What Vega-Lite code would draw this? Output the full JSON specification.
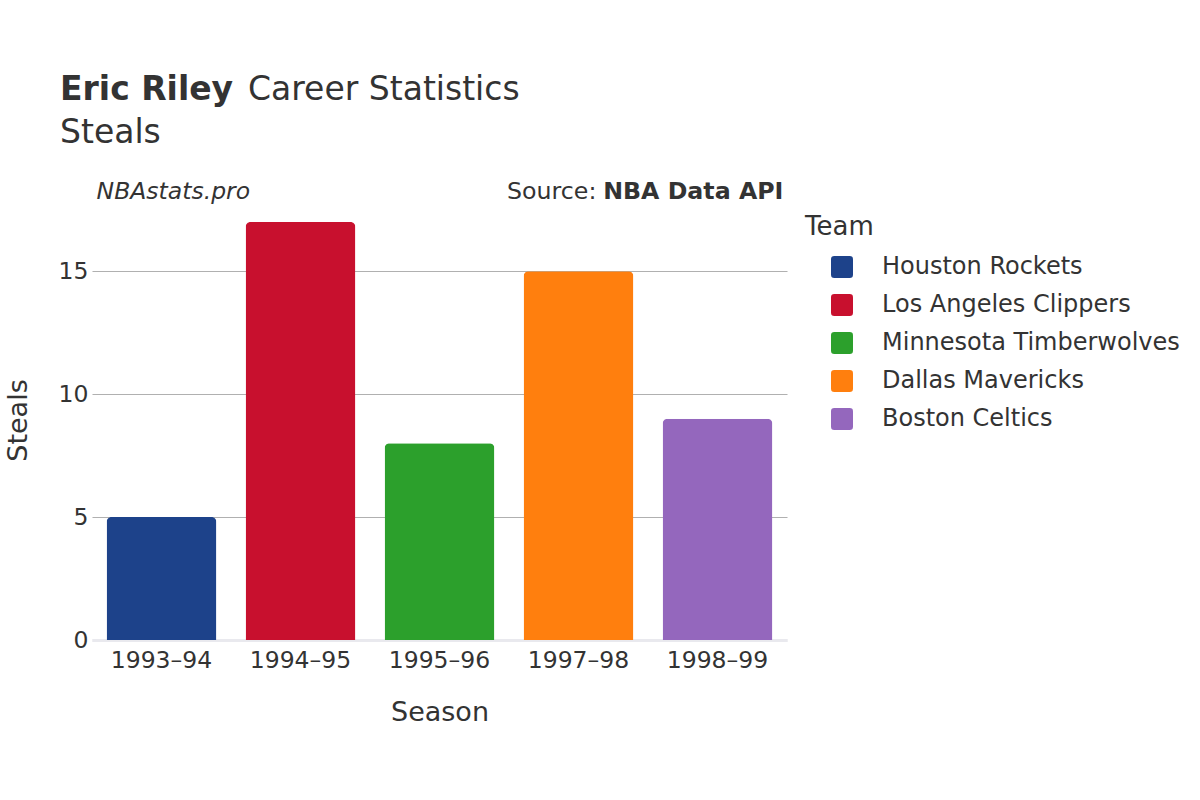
{
  "$schema": "https://vega.github.io/schema/vega-lite/v6.json",
  "padding": {"left": 4, "top": 74, "right": 5, "bottom": 5},
  "background": "white",
  "config": {
    "font": "DejaVu Sans",
    "view": {"stroke": null},
    "title": {"color": "#333333", "subtitleColor": "#333333"},
    "axis": {"labelColor": "#333333", "titleColor": "#333333", "titleFontWeight": "normal"},
    "legend": {"labelColor": "#333333", "titleColor": "#333333"}
  },
  "title": {
    "text": "Eric Riley",
    "subtitle": "Steals",
    "anchor": "start",
    "frame": "group",
    "fontSize": 33,
    "fontWeight": "bold",
    "subtitleFontSize": 33,
    "subtitleFontWeight": "normal",
    "subtitlePadding": 10,
    "dx": -32,
    "dy": 86,
    "offset": 10
  },
  "datasets": {
    "stats": [
      {"Season": "1993–94", "Team": "Houston Rockets", "Steals": 5},
      {"Season": "1994–95", "Team": "Los Angeles Clippers", "Steals": 17},
      {"Season": "1995–96", "Team": "Minnesota Timberwolves", "Steals": 8},
      {"Season": "1997–98", "Team": "Dallas Mavericks", "Steals": 15},
      {"Season": "1998–99", "Team": "Boston Celtics", "Steals": 9}
    ]
  },
  "vconcat": [
    {
      "title": {
        "text": "Career Statistics",
        "anchor": "start",
        "frame": "group",
        "fontSize": 33,
        "fontWeight": "normal",
        "dx": 156,
        "dy": -69
      },
      "width": 695,
      "height": 440,
      "layer": [
        {
          "data": {"name": "stats"},
          "mark": {"type": "bar", "cornerRadiusTopLeft": 5, "cornerRadiusTopRight": 5},
          "encoding": {
            "x": {
              "field": "Season",
              "type": "nominal",
              "sort": null,
              "scale": {"paddingInner": 0.21, "paddingOuter": 0.105},
              "axis": {
                "labelAngle": 0,
                "labelFontSize": 23.5,
                "labelPadding": 8,
                "ticks": false,
                "domainColor": "#e9e9ee",
                "domainWidth": 3,
                "title": "Season",
                "titleFontSize": 27,
                "titlePadding": 28
              }
            },
            "y": {
              "field": "Steals",
              "type": "quantitative",
              "scale": {"domain": [0, 17.9], "nice": false, "zero": true},
              "axis": {
                "values": [0, 5, 10, 15],
                "labelFontSize": 23.5,
                "labelPadding": 4,
                "ticks": false,
                "domain": false,
                "gridColor": {"condition": {"test": "datum.value === 0", "value": "#e9e9ee"}, "value": "#b0b0b0"},
                "gridWidth": {"condition": {"test": "datum.value === 0", "value": 3}, "value": 1.2},
                "title": "Steals",
                "titleFontSize": 27,
                "titlePadding": 26
              }
            },
            "color": {
              "field": "Team",
              "type": "nominal",
              "sort": null,
              "scale": {
                "domain": ["Houston Rockets", "Los Angeles Clippers", "Minnesota Timberwolves", "Dallas Mavericks", "Boston Celtics"],
                "range": ["#1d428a", "#c8102e", "#2ca02c", "#ff7f0e", "#9467bd"]
              },
              "legend": {
                "title": "Team",
                "titleFontSize": 26,
                "titleFontWeight": "normal",
                "titlePadding": 15,
                "labelFontSize": 24,
                "labelLimit": 400,
                "labelOffset": 28,
                "symbolType": "M-0.7,-1H0.7Q1,-1,1,-0.7V0.7Q1,1,0.7,1H-0.7Q-1,1,-1,0.7V-0.7Q-1,-1,-0.7,-1Z",
                "symbolSize": 484,
                "symbolOffset": 25,
                "symbolStrokeWidth": 0,
                "symbolOpacity": 1,
                "rowPadding": 14,
                "offset": 4,
                "padding": 14
              }
            }
          }
        },
        {
          "data": {"values": [{}]},
          "mark": {"type": "text", "align": "left", "baseline": "middle", "fontStyle": "italic", "fontSize": 23.5, "color": "#333333", "dx": -10},
          "encoding": {
            "x": {"datum": "1993–94", "type": "nominal", "bandPosition": 0},
            "y": {"datum": 18.22, "type": "quantitative"},
            "text": {"value": "NBAstats.pro"}
          }
        },
        {
          "data": {"values": [{}]},
          "mark": {"type": "text", "align": "right", "baseline": "middle", "fontSize": 23.7, "color": "#333333", "dx": -176},
          "encoding": {
            "x": {"datum": "1998–99", "type": "nominal", "bandPosition": 1},
            "y": {"datum": 18.22, "type": "quantitative"},
            "text": {"value": "Source:"}
          }
        },
        {
          "data": {"values": [{}]},
          "mark": {"type": "text", "align": "right", "baseline": "middle", "fontSize": 23.7, "fontWeight": "bold", "color": "#333333", "dx": 11},
          "encoding": {
            "x": {"datum": "1998–99", "type": "nominal", "bandPosition": 1},
            "y": {"datum": 18.22, "type": "quantitative"},
            "text": {"value": "NBA Data API"}
          }
        }
      ]
    }
  ]
}
